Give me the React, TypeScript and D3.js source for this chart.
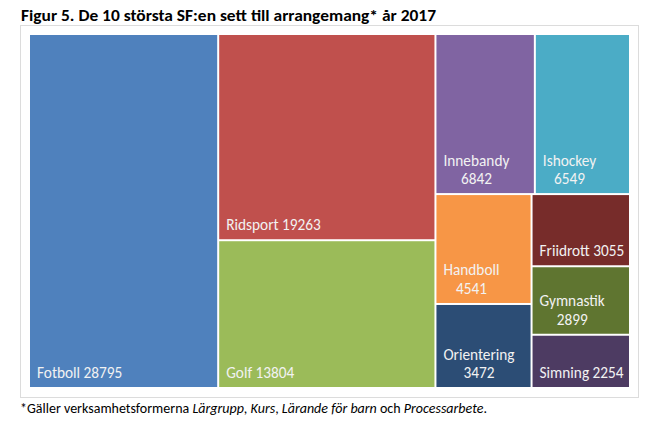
import React from "react";
import * as d3 from "d3";

const W = 671;
const H = 434;

const groups = ["A", "B", "C"];
const sports = ["Fotboll", "Ridsport", "Golf", "Innebandy", "Ishockey", "Handboll", "Orientering", "Friidrott", "Gymnastik", "Simning"];
const values = [28795, 19263, 13804, 6842, 6549, 4541, 3472, 3055, 2899, 2254];
const colors = ["#4F81BD", "#C0504D", "#9BBB59", "#8064A2", "#4BACC6", "#F79646", "#2C4D75", "#772C2A", "#5F7530", "#4D3B62"];
const wrapped = ["Innebandy", "Ishockey", "Handboll", "Orientering", "Gymnastik"];

const title = "Figur 5. De 10 största SF:en sett till arrangemang* år 2017";

type N = { name: string; value?: number; children?: N[] };

function leaf(name: string): N {
  return { name, value: values[sports.indexOf(name)] };
}

const tree: N = {
  name: "root",
  children: [
    { name: groups[0], children: [leaf("Fotboll")] },
    { name: groups[1], children: [leaf("Ridsport"), leaf("Golf")] },
    {
      name: groups[2],
      children: [
        { name: "C1", children: [leaf("Innebandy"), leaf("Ishockey")] },
        {
          name: "C2",
          children: [
            { name: "C21", children: [leaf("Handboll"), leaf("Orientering")] },
            { name: "C22", children: [leaf("Friidrott"), leaf("Gymnastik"), leaf("Simning")] },
          ],
        },
      ],
    },
  ],
};

const FONT = "Carlito, Calibri, 'Open Sans', sans-serif";
const LABEL_SIZE = 15.3;

let ctx: CanvasRenderingContext2D | null = null;
function measure(t: string): number {
  if (!ctx) {
    const c = document.createElement("canvas");
    ctx = c.getContext("2d");
  }
  if (!ctx) return t.length * 7;
  ctx.font = `${LABEL_SIZE}px ${FONT}`;
  return ctx.measureText(t).width;
}

export default function App() {
  const x0 = 30, y0 = 35, x1 = 629, y1 = 387;
  const root = d3.hierarchy<N>(tree).sum((d) => d.value || 0);
  d3.treemap<N>().tile(d3.treemapSliceDice).size([x1 - x0, y1 - y0]).paddingInner(2)(root);
  const leaves = root.leaves() as d3.HierarchyRectangularNode<N>[];
  return (
    <svg width={W} height={H} style={{ position: "absolute", left: 0, top: 0, fontFamily: FONT }}>
      <rect x={0} y={0} width={W} height={H} fill="#fff" />
      <text x={21} y={20.5} fontSize={15.5} fontWeight="bold" fill="#000" textLength={415} lengthAdjust="spacingAndGlyphs">{title}</text>
      <rect x={20.5} y={25.5} width={618} height={372} fill="none" stroke="#dcdcdc" strokeWidth={1} />
      <g transform={`translate(${x0},${y0})`}>
        {leaves.map((d) => {
          const i = sports.indexOf(d.data.name);
          const isWrapped = wrapped.includes(d.data.name);
          const lh = 18.5;
          const baseY = d.y1 - 9;
          const cx = d.x0 + 7;
          const w1 = measure(d.data.name);
          return (
            <g key={d.data.name}>
              <rect x={d.x0} y={d.y0} width={d.x1 - d.x0} height={d.y1 - d.y0} fill={colors[i]} />
              {!isWrapped ? (
                <text x={cx} y={baseY} fill="#f2f2f2" fontSize={LABEL_SIZE}>{`${d.data.name} ${values[i]}`}</text>
              ) : (
                <g>
                  <text x={cx} y={baseY - lh} fill="#f2f2f2" fontSize={LABEL_SIZE}>{d.data.name}</text>
                  <text x={cx + w1 / 2} y={baseY} fill="#f2f2f2" fontSize={LABEL_SIZE} textAnchor="middle">{String(values[i])}</text>
                </g>
              )}
            </g>
          );
        })}
      </g>
      <text x={20} y={413} fontSize={14} fill="#000">
        *Gäller verksamhetsformerna <tspan fontStyle="italic">Lärgrupp</tspan>, <tspan fontStyle="italic">Kurs</tspan>, <tspan fontStyle="italic">Lärande för barn</tspan> och <tspan fontStyle="italic">Processarbete</tspan>.
      </text>
    </svg>
  );
}
